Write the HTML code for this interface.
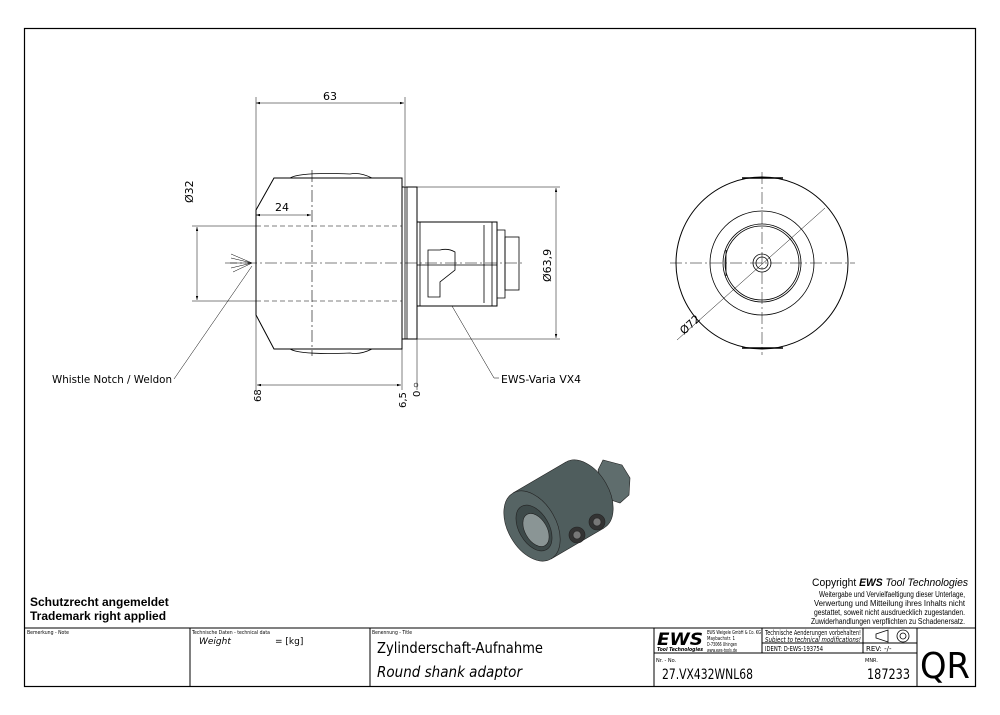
<!DOCTYPE html>
<html><head><meta charset="utf-8"><style>
body{margin:0;background:#fff}
svg{display:block}
text{font-family:"DejaVu Sans","Liberation Sans",sans-serif;fill:#000}
</style></head><body>
<svg width="1000" height="715" viewBox="0 0 1000 715" xmlns="http://www.w3.org/2000/svg">
<defs><marker id="a" viewBox="0 0 10 6" refX="10" refY="3" markerWidth="8" markerHeight="5" orient="auto-start-reverse"><path d="M0,0L10,3L0,6z" fill="#000"/></marker></defs>
<rect x="24.5" y="28.5" width="951" height="658" fill="none" stroke="#000" stroke-width="1.2"/>
<g stroke="#000" fill="none" stroke-width="0.8">
<path d="M274,178 L402,178 L402,349 L274,349 L256,315 L256,210 Z" stroke-width="1"/>
<path d="M290,178 Q300,172 350,174 Q360,172 372,178 M290,349 Q300,355 350,353 Q360,355 372,349" />
<rect x="402" y="187" width="15" height="152" stroke-width="1"/>
<line x1="405" y1="187" x2="405" y2="339"/><line x1="407" y1="187" x2="407" y2="339"/>
<path d="M417,222 L497,222 L497,306 L417,306 Z" stroke-width="1"/>
<line x1="420" y1="222" x2="420" y2="306"/>
<path d="M492,222 L492,306 M484,225 L484,303"/>
<rect x="505" y="237" width="14" height="53"/>
<path d="M497,230 L505,230 L505,298 L497,298"/>
<path d="M428,250 L440,250 Q448,248 455,252 L455,270 L440,282 L440,297 L428,297 Z"/>
<line x1="417" y1="265" x2="497" y2="265"/>
<g stroke-dasharray="12,3,2,3" stroke-width="0.6"><line x1="225" y1="263" x2="525" y2="263"/><line x1="312" y1="170" x2="312" y2="356"/></g>
<g stroke-dasharray="5,3" stroke-width="0.6"><line x1="256" y1="226" x2="402" y2="226"/><line x1="256" y1="301" x2="402" y2="301"/></g>
<line x1="192" y1="226" x2="256" y2="226" stroke-width="0.5"/><line x1="192" y1="301" x2="256" y2="301" stroke-width="0.5"/>
<g stroke-width="0.5">
<line x1="256" y1="97" x2="256" y2="390"/><line x1="405" y1="97" x2="405" y2="186"/>
<line x1="256" y1="103" x2="404" y2="103" marker-start="url(#a)" marker-end="url(#a)"/>
<line x1="256" y1="215" x2="311" y2="215" marker-start="url(#a)" marker-end="url(#a)"/>
<line x1="197" y1="227" x2="197" y2="300" marker-start="url(#a)" marker-end="url(#a)"/>
<line x1="417" y1="187" x2="560" y2="187"/><line x1="417" y1="339" x2="560" y2="339"/>
<line x1="556" y1="188" x2="556" y2="338" marker-start="url(#a)" marker-end="url(#a)"/>
<line x1="402" y1="349" x2="402" y2="390"/><line x1="417" y1="339" x2="417" y2="390"/>
<line x1="257" y1="385" x2="401" y2="385" marker-start="url(#a)" marker-end="url(#a)"/>
<circle cx="416" cy="385" r="2"/>
<path d="M174,379 L252,266"/><path d="M252,263 L231,254 M252,263 L231,258 M252,263 L230,263 M252,263 L231,268 M252,263 L233,272"/>
<path d="M452,306 L494,378 L499,378"/>
</g>
<circle cx="762" cy="263" r="86" stroke-width="1"/>
<circle cx="762" cy="263" r="52"/>
<circle cx="762" cy="263" r="39"/><circle cx="762" cy="263" r="37"/>
<path d="M726,250 L726,276"/>
<circle cx="762" cy="263" r="9"/><circle cx="762" cy="263" r="6"/>
<path d="M742,178 L783,178 M742,348 L783,348" stroke-width="1.5"/>
<g stroke-dasharray="12,3,2,3" stroke-width="0.5"><line x1="670" y1="263" x2="855" y2="263"/><line x1="762" y1="172" x2="762" y2="355"/></g>
<line x1="677" y1="340" x2="825" y2="208" stroke-width="0.5"/>
<g stroke="#222" stroke-width="0.6">
<path d="M598,470 L603,460 L622,465 L630,478 L629,495 L620,503 L605,498Z" fill="#5f6d6d"/>
<ellipse cx="585" cy="495" rx="38" ry="24" transform="rotate(60 585 495)" fill="#4f5d5d"/>
<path d="M513,493 L566,462 L604,528 L551,559 Z" fill="#4f5d5d" stroke="none"/>
<path d="M513,493 L566,462 M604,528 L551,559" />
<ellipse cx="532" cy="526" rx="38" ry="24" transform="rotate(60 532 526)" fill="#566464"/>
<ellipse cx="534" cy="528" rx="25" ry="15" transform="rotate(60 534 528)" fill="#3e4a4a"/>
<ellipse cx="536" cy="530" rx="18" ry="11" transform="rotate(60 536 530)" fill="#8a9595"/>
<circle cx="577" cy="535" r="8" fill="#333"/><circle cx="577" cy="535" r="4" fill="#777"/>
<circle cx="597" cy="522" r="8" fill="#333"/><circle cx="597" cy="522" r="4" fill="#777"/>
</g>
<g stroke-width="1">
<line x1="24" y1="628" x2="976" y2="628"/>
<line x1="190" y1="628" x2="190" y2="687"/><line x1="370" y1="628" x2="370" y2="687"/>
<line x1="654" y1="628" x2="654" y2="687"/><line x1="917" y1="628" x2="917" y2="687"/>
<line x1="762" y1="628" x2="762" y2="653"/><line x1="863" y1="628" x2="863" y2="653"/>
<line x1="762" y1="643" x2="917" y2="643"/><line x1="654" y1="653" x2="917" y2="653"/>
</g>
<path d="M876,634 L888,630 L888,642 L876,638Z" stroke-width="0.8"/><circle cx="903" cy="636" r="6"/><circle cx="903" cy="636" r="3"/>
</g>
<g font-size="11">
<text x="323" y="100">63</text>
<text x="275" y="211">24</text>
<text transform="translate(193,203) rotate(-90)">Ø32</text>
<text transform="translate(551,282) rotate(-90)">Ø63,9</text>
<text transform="translate(261,402) rotate(-90)" font-size="10">68</text>
<text transform="translate(406,408) rotate(-90)" font-size="10">6,5</text>
<text transform="translate(420,397) rotate(-90)" font-size="10">0</text>
<text x="52" y="383" textLength="120" lengthAdjust="spacingAndGlyphs">Whistle Notch / Weldon</text>
<text x="501" y="383" textLength="80" lengthAdjust="spacingAndGlyphs">EWS-Varia VX4</text>
<text transform="translate(684,335) rotate(-42)">Ø72</text>
</g>
<g style="font-family:'Liberation Sans'">
<text x="30" y="606" font-size="12" font-weight="bold" style="font-family:'Liberation Sans'">Schutzrecht angemeldet</text>
<text x="30" y="620" font-size="12" font-weight="bold" style="font-family:'Liberation Sans'">Trademark right applied</text>
<text x="812" y="586" font-size="11" textLength="156" lengthAdjust="spacingAndGlyphs" style="font-family:'Liberation Sans'">Copyright <tspan font-weight="bold" font-style="italic">EWS</tspan> <tspan font-style="italic">Tool Technologies</tspan></text>
<g font-size="8" style="font-family:'Liberation Sans'">
<text x="819" y="597" textLength="146" lengthAdjust="spacingAndGlyphs" style="font-family:'Liberation Sans'">Weitergabe und Vervielfaeltigung dieser Unterlage,</text>
<text x="814" y="606" textLength="151" lengthAdjust="spacingAndGlyphs" style="font-family:'Liberation Sans'">Verwertung und Mitteilung ihres Inhalts nicht</text>
<text x="814" y="615" textLength="151" lengthAdjust="spacingAndGlyphs" style="font-family:'Liberation Sans'">gestattet, soweit nicht ausdruecklich zugestanden.</text>
<text x="811" y="624" textLength="154" lengthAdjust="spacingAndGlyphs" style="font-family:'Liberation Sans'">Zuwiderhandlungen verpflichten zu Schadenersatz.</text>
</g>
</g>
<g font-size="5">
<text x="27" y="634" textLength="42" lengthAdjust="spacingAndGlyphs">Bemerkung - Note</text>
<text x="192" y="634" textLength="78" lengthAdjust="spacingAndGlyphs">Technische Daten - technical data</text>
<text x="372" y="634" textLength="40" lengthAdjust="spacingAndGlyphs">Benennung - Title</text>
<text x="656" y="662">Nr. - No.</text>
<text x="865" y="662">MNR.</text>
<text x="707" y="634" textLength="54" lengthAdjust="spacingAndGlyphs">EWS Weigele GmbH &amp; Co. KG</text>
<text x="707" y="640" textLength="28" lengthAdjust="spacingAndGlyphs">Maybachstr. 1</text>
<text x="707" y="646" textLength="30" lengthAdjust="spacingAndGlyphs">D-73066 Uhingen</text>
<text x="707" y="652" textLength="30" lengthAdjust="spacingAndGlyphs">www.ews-tools.de</text>
</g>
<text x="199" y="644" font-size="9" font-style="italic">Weight</text>
<text x="275" y="644" font-size="9">=   [kg]</text>
<text x="377" y="653" font-size="15" textLength="166" lengthAdjust="spacingAndGlyphs">Zylinderschaft-Aufnahme</text>
<text x="377" y="677" font-size="15" font-style="italic" textLength="145" lengthAdjust="spacingAndGlyphs">Round shank adaptor</text>
<text x="657" y="645" font-size="17" font-weight="bold" font-style="italic" textLength="46" lengthAdjust="spacingAndGlyphs">EWS</text>
<text x="657" y="651" font-size="5" font-weight="bold" font-style="italic" textLength="46" lengthAdjust="spacingAndGlyphs">Tool Technologies</text>
<text x="765" y="635" font-size="7" textLength="96" lengthAdjust="spacingAndGlyphs">Technische Aenderungen vorbehalten!</text>
<text x="765" y="642" font-size="7" font-style="italic" textLength="96" lengthAdjust="spacingAndGlyphs">Subject to technical modifications!</text>
<text x="765" y="651" font-size="7" textLength="58" lengthAdjust="spacingAndGlyphs">IDENT:  D-EWS-193754</text>
<text x="866" y="651" font-size="7">REV:  -/-</text>
<text x="662" y="679" font-size="14" textLength="91" lengthAdjust="spacingAndGlyphs">27.VX432WNL68</text>
<text x="867" y="679" font-size="14" textLength="43" lengthAdjust="spacingAndGlyphs">187233</text>
<text x="920" y="678" font-size="36" textLength="50" lengthAdjust="spacingAndGlyphs">QR</text>
</svg>
</body></html>
